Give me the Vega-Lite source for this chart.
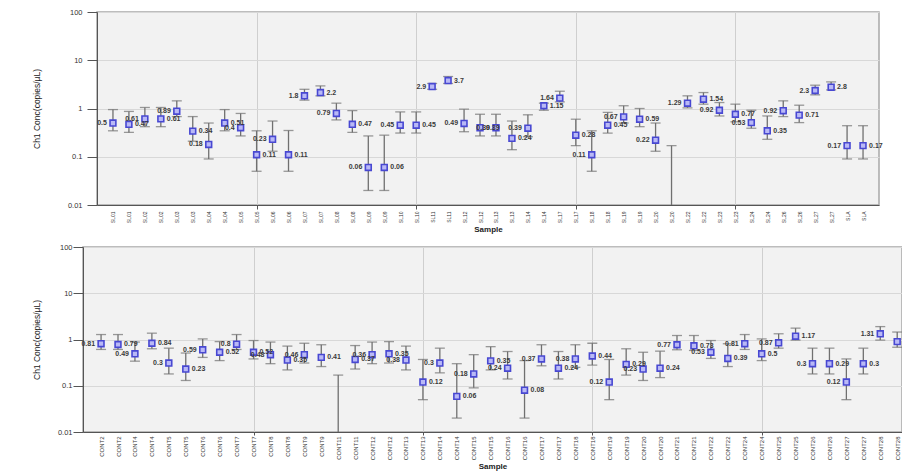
{
  "$schema": "https://vega.github.io/schema/vega-lite/v6.json",
  "background": "white",
  "padding": {"left": 24, "top": 7, "right": 0, "bottom": 0},
  "spacing": 7,
  "config": {
    "view": {"fill": "#f2f2f2", "stroke": "#a8a8a8", "strokeWidth": 1.5},
    "font": "Liberation Sans",
    "axis": {"labelFont": "Liberation Sans", "titleFont": "Liberation Sans", "domainColor": "#555555", "tickColor": "#555555", "labelColor": "#333333", "titleColor": "#222222"}
  },
  "vconcat": [
    {"spacing": 0, "hconcat": [
    {
      "width": 1, "height": 1,
      "view": {"fill": null, "stroke": null},
      "data": {"values": [{}]},
      "mark": {"type": "point", "opacity": 0}
    },
    {
      "width": 782,
      "height": 193,
      "data": {"values": [
        {"idx":1,"sample":"SL01","v":0.5,"lo":0.345,"hi":0.95,"lab":"0.5"},
        {"idx":2,"sample":"SL01","v":0.47,"lo":0.32,"hi":0.87,"lab":"0.47"},
        {"idx":3,"sample":"SL02","v":0.61,"lo":0.42,"hi":1.05,"lab":"0.61"},
        {"idx":4,"sample":"SL02","v":0.61,"lo":0.42,"hi":1.05,"lab":"0.61"},
        {"idx":5,"sample":"SL03","v":0.88,"lo":0.68,"hi":1.44,"lab":"0.89"},
        {"idx":6,"sample":"SL03","v":0.34,"lo":0.21,"hi":0.68,"lab":"0.34"},
        {"idx":7,"sample":"SL04","v":0.18,"lo":0.09,"hi":0.5,"lab":"0.18"},
        {"idx":8,"sample":"SL04","v":0.5,"lo":0.345,"hi":0.95,"lab":"0.51"},
        {"idx":9,"sample":"SL05","v":0.4,"lo":0.27,"hi":0.79,"lab":"0.4"},
        {"idx":10,"sample":"SL05","v":0.11,"lo":0.05,"hi":0.345,"lab":"0.11"},
        {"idx":11,"sample":"SL06","v":0.23,"lo":0.13,"hi":0.55,"lab":"0.23"},
        {"idx":12,"sample":"SL06","v":0.11,"lo":0.05,"hi":0.35,"lab":"0.11"},
        {"idx":13,"sample":"SL07","v":1.83,"lo":1.49,"hi":2.5,"lab":"1.8"},
        {"idx":14,"sample":"SL07","v":2.14,"lo":1.83,"hi":2.94,"lab":"2.2"},
        {"idx":15,"sample":"SL08","v":0.79,"lo":0.58,"hi":1.29,"lab":"0.79"},
        {"idx":16,"sample":"SL08","v":0.47,"lo":0.32,"hi":0.9,"lab":"0.47"},
        {"idx":17,"sample":"SL09","v":0.06,"lo":0.02,"hi":0.27,"lab":"0.06"},
        {"idx":18,"sample":"SL09","v":0.06,"lo":0.02,"hi":0.28,"lab":"0.06"},
        {"idx":19,"sample":"SL10","v":0.45,"lo":0.31,"hi":0.85,"lab":"0.45"},
        {"idx":20,"sample":"SL10","v":0.45,"lo":0.31,"hi":0.85,"lab":"0.45"},
        {"idx":21,"sample":"SL11","v":2.85,"lo":2.5,"hi":3.3,"lab":"2.9"},
        {"idx":22,"sample":"SL11","v":3.8,"lo":3.3,"hi":4.6,"lab":"3.7"},
        {"idx":23,"sample":"SL12","v":0.49,"lo":0.33,"hi":0.97,"lab":"0.49"},
        {"idx":24,"sample":"SL12","v":0.4,"lo":0.27,"hi":0.76,"lab":"0.39"},
        {"idx":25,"sample":"SL13","v":0.4,"lo":0.27,"hi":0.76,"lab":"0.39"},
        {"idx":26,"sample":"SL13","v":0.24,"lo":0.14,"hi":0.55,"lab":"0.24"},
        {"idx":27,"sample":"SL14","v":0.39,"lo":0.26,"hi":0.74,"lab":"0.39"},
        {"idx":28,"sample":"SL14","v":1.14,"lo":0.92,"hi":1.29,"lab":"1.15"},
        {"idx":29,"sample":"SL17","v":1.64,"lo":1.37,"hi":2.28,"lab":"1.64"},
        {"idx":30,"sample":"SL17","v":0.28,"lo":0.17,"hi":0.6,"lab":"0.28"},
        {"idx":31,"sample":"SL18","v":0.11,"lo":0.05,"hi":0.345,"lab":"0.11"},
        {"idx":32,"sample":"SL18","v":0.45,"lo":0.31,"hi":0.83,"lab":"0.45"},
        {"idx":33,"sample":"SL19","v":0.67,"lo":0.5,"hi":1.14,"lab":"0.67"},
        {"idx":34,"sample":"SL19","v":0.6,"lo":0.42,"hi":1.0,"lab":"0.59"},
        {"idx":35,"sample":"SL20","v":0.22,"lo":0.13,"hi":0.5,"lab":"0.22"},
        {"idx":36,"sample":"SL20","v":null,"lo":0.005,"hi":0.17,"lab":null},
        {"idx":37,"sample":"SL22","v":1.29,"lo":1.03,"hi":1.83,"lab":"1.29"},
        {"idx":38,"sample":"SL22","v":1.56,"lo":1.23,"hi":2.14,"lab":"1.54"},
        {"idx":39,"sample":"SL23","v":0.92,"lo":0.7,"hi":1.33,"lab":"0.92"},
        {"idx":40,"sample":"SL23","v":0.76,"lo":0.53,"hi":1.23,"lab":"0.77"},
        {"idx":41,"sample":"SL24","v":0.51,"lo":0.39,"hi":0.92,"lab":"0.53"},
        {"idx":42,"sample":"SL24","v":0.345,"lo":0.23,"hi":0.7,"lab":"0.35"},
        {"idx":43,"sample":"SL26","v":0.9,"lo":0.68,"hi":1.44,"lab":"0.92"},
        {"idx":44,"sample":"SL26","v":0.73,"lo":0.51,"hi":1.17,"lab":"0.71"},
        {"idx":45,"sample":"SL27","v":2.36,"lo":1.92,"hi":3.04,"lab":"2.3"},
        {"idx":46,"sample":"SL27","v":2.76,"lo":2.43,"hi":3.56,"lab":"2.8"},
        {"idx":47,"sample":"SLA","v":0.17,"lo":0.09,"hi":0.44,"lab":"0.17"},
        {"idx":48,"sample":"SLA","v":0.17,"lo":0.09,"hi":0.44,"lab":"0.17"}
      ]},
      "encoding": {
        "x": {
          "field": "idx", "type": "ordinal",
          "scale": {"type": "point", "padding": 1},
          "axis": {
            "title": "Sample", "titleFontSize": 8, "titleFontWeight": "bold", "titlePadding": 3,
            "labelAngle": -90, "labelFontSize": 5, "labelPadding": 2, "tickSize": 4,
            "labelExpr": "['SL01','SL01','SL02','SL02','SL03','SL03','SL04','SL04','SL05','SL05','SL06','SL06','SL07','SL07','SL08','SL08','SL09','SL09','SL10','SL10','SL11','SL11','SL12','SL12','SL13','SL13','SL14','SL14','SL17','SL17','SL18','SL18','SL19','SL19','SL20','SL20','SL22','SL22','SL23','SL23','SL24','SL24','SL26','SL26','SL27','SL27','SLA','SLA'][datum.value - 1]",
            "grid": true, "gridColor": "#cfcfcf",
            "gridOpacity": {"condition": {"test": "datum.value % 10 === 0", "value": 1}, "value": 0},
            "tickOpacity": {"condition": {"test": "datum.value % 10 === 0", "value": 1}, "value": 0}
          }
        }
      },
      "layer": [
        {
          "mark": {"type": "rule", "color": "#707070", "strokeWidth": 1.3, "clip": true},
          "encoding": {
            "y": {"field": "lo", "type": "quantitative", "title": "Ch1 Conc(copies/µL)",
              "scale": {"type": "log", "domain": [0.01, 100], "nice": false},
              "axis": {"values": [0.01, 0.1, 1, 10, 100], "format": "~g", "grid": true, "gridColor": "#d8d8d8",
                "labelFontSize": 7.5, "labelPadding": 5, "tickSize": 10, "titleFontSize": 8.5, "titleFontWeight": "normal", "titleX": -56}},
            "y2": {"field": "hi"}
          }
        },
        {
          "mark": {"type": "tick", "color": "#707070", "thickness": 1.3, "size": 10, "clip": true},
          "encoding": {"y": {"field": "lo", "type": "quantitative", "title": "Ch1 Conc(copies/µL)"}}
        },
        {
          "mark": {"type": "tick", "color": "#707070", "thickness": 1.3, "size": 10, "clip": true},
          "encoding": {"y": {"field": "hi", "type": "quantitative", "title": "Ch1 Conc(copies/µL)"}}
        },
        {
          "mark": {"type": "point", "shape": "square", "size": 34, "filled": true, "fill": "#b9b9f6", "stroke": "#4848d2", "strokeWidth": 1.6, "opacity": 1},
          "encoding": {"y": {"field": "v", "type": "quantitative", "title": "Ch1 Conc(copies/µL)"}}
        },
        {
          "transform": [{"filter": "datum.idx % 2 === 1"}],
          "mark": {"type": "text", "align": "right", "baseline": "middle", "dx": -6, "fontSize": 7, "fontWeight": "bold", "fill": "#3a3a3a"},
          "encoding": {"y": {"field": "v", "type": "quantitative", "title": "Ch1 Conc(copies/µL)"}, "text": {"field": "lab"}}
        },
        {
          "transform": [{"filter": "datum.idx % 2 === 0"}],
          "mark": {"type": "text", "align": "left", "baseline": "middle", "dx": 6, "fontSize": 7, "fontWeight": "bold", "fill": "#3a3a3a"},
          "encoding": {"y": {"field": "v", "type": "quantitative", "title": "Ch1 Conc(copies/µL)"}, "text": {"field": "lab"}}
        }
      ]
    }
    ]},
    {"spacing": 0, "hconcat": [
    {
      "width": 1, "height": 1,
      "view": {"fill": null, "stroke": null},
      "data": {"values": [{}]},
      "mark": {"type": "point", "opacity": 0}
    },
    {
      "width": 819,
      "height": 185,
      "data": {"values": [
        {"idx":1,"sample":"CONT2","v":0.81,"lo":0.61,"hi":1.28,"lab":"0.81"},
        {"idx":2,"sample":"CONT2","v":0.78,"lo":0.61,"hi":1.28,"lab":"0.79"},
        {"idx":3,"sample":"CONT4","v":0.49,"lo":0.34,"hi":0.88,"lab":"0.49"},
        {"idx":4,"sample":"CONT4","v":0.83,"lo":0.63,"hi":1.37,"lab":"0.84"},
        {"idx":5,"sample":"CONT5","v":0.31,"lo":0.18,"hi":0.65,"lab":"0.3"},
        {"idx":6,"sample":"CONT5","v":0.23,"lo":0.13,"hi":0.51,"lab":"0.23"},
        {"idx":7,"sample":"CONT6","v":0.6,"lo":0.41,"hi":1.03,"lab":"0.59"},
        {"idx":8,"sample":"CONT6","v":0.53,"lo":0.35,"hi":0.9,"lab":"0.52"},
        {"idx":9,"sample":"CONT7","v":0.79,"lo":0.61,"hi":1.28,"lab":"0.8"},
        {"idx":10,"sample":"CONT7","v":0.53,"lo":0.38,"hi":0.95,"lab":"0.52"},
        {"idx":11,"sample":"CONT8","v":0.47,"lo":0.3,"hi":0.88,"lab":"0.48"},
        {"idx":12,"sample":"CONT8","v":0.36,"lo":0.22,"hi":0.72,"lab":"0.35"},
        {"idx":13,"sample":"CONT9","v":0.47,"lo":0.31,"hi":0.83,"lab":"0.46"},
        {"idx":14,"sample":"CONT9","v":0.41,"lo":0.26,"hi":0.77,"lab":"0.41"},
        {"idx":15,"sample":"CONT11","v":null,"lo":0.005,"hi":0.17,"lab":null},
        {"idx":16,"sample":"CONT11","v":0.37,"lo":0.23,"hi":0.74,"lab":"0.37"},
        {"idx":17,"sample":"CONT12","v":0.47,"lo":0.3,"hi":0.88,"lab":"0.36"},
        {"idx":18,"sample":"CONT12","v":0.49,"lo":0.31,"hi":0.9,"lab":"0.35"},
        {"idx":19,"sample":"CONT13","v":0.36,"lo":0.22,"hi":0.72,"lab":"0.38"},
        {"idx":20,"sample":"CONT13","v":0.12,"lo":0.05,"hi":0.37,"lab":"0.12"},
        {"idx":21,"sample":"CONT14","v":0.31,"lo":0.19,"hi":0.65,"lab":"0.3"},
        {"idx":22,"sample":"CONT14","v":0.059,"lo":0.02,"hi":0.3,"lab":"0.06"},
        {"idx":23,"sample":"CONT15","v":0.18,"lo":0.09,"hi":0.47,"lab":"0.18"},
        {"idx":24,"sample":"CONT15","v":0.345,"lo":0.22,"hi":0.7,"lab":"0.35"},
        {"idx":25,"sample":"CONT16","v":0.24,"lo":0.14,"hi":0.55,"lab":"0.24"},
        {"idx":26,"sample":"CONT16","v":0.08,"lo":0.02,"hi":0.35,"lab":"0.08"},
        {"idx":27,"sample":"CONT17","v":0.38,"lo":0.27,"hi":0.77,"lab":"0.37"},
        {"idx":28,"sample":"CONT17","v":0.24,"lo":0.14,"hi":0.55,"lab":"0.24"},
        {"idx":29,"sample":"CONT18","v":0.38,"lo":0.25,"hi":0.77,"lab":"0.38"},
        {"idx":30,"sample":"CONT18","v":0.44,"lo":0.28,"hi":0.83,"lab":"0.44"},
        {"idx":31,"sample":"CONT19","v":0.12,"lo":0.05,"hi":0.37,"lab":"0.12"},
        {"idx":32,"sample":"CONT19","v":0.29,"lo":0.17,"hi":0.63,"lab":"0.29"},
        {"idx":33,"sample":"CONT20","v":0.23,"lo":0.13,"hi":0.53,"lab":"0.23"},
        {"idx":34,"sample":"CONT20","v":0.24,"lo":0.15,"hi":0.56,"lab":"0.24"},
        {"idx":35,"sample":"CONT21","v":0.77,"lo":0.6,"hi":1.22,"lab":"0.77"},
        {"idx":36,"sample":"CONT21","v":0.73,"lo":0.58,"hi":1.22,"lab":"0.73"},
        {"idx":37,"sample":"CONT22","v":0.53,"lo":0.39,"hi":0.95,"lab":"0.53"},
        {"idx":38,"sample":"CONT22","v":0.39,"lo":0.26,"hi":0.81,"lab":"0.39"},
        {"idx":39,"sample":"CONT24","v":0.81,"lo":0.61,"hi":1.28,"lab":"0.81"},
        {"idx":40,"sample":"CONT24","v":0.49,"lo":0.35,"hi":1.03,"lab":"0.5"},
        {"idx":41,"sample":"CONT25","v":0.85,"lo":0.65,"hi":1.33,"lab":"0.87"},
        {"idx":42,"sample":"CONT25","v":1.18,"lo":0.97,"hi":1.76,"lab":"1.17"},
        {"idx":43,"sample":"CONT26","v":0.3,"lo":0.18,"hi":0.65,"lab":"0.3"},
        {"idx":44,"sample":"CONT26","v":0.3,"lo":0.18,"hi":0.65,"lab":"0.29"},
        {"idx":45,"sample":"CONT27","v":0.12,"lo":0.05,"hi":0.38,"lab":"0.12"},
        {"idx":46,"sample":"CONT27","v":0.3,"lo":0.18,"hi":0.65,"lab":"0.3"},
        {"idx":47,"sample":"CONT28","v":1.33,"lo":0.97,"hi":1.9,"lab":"1.31"},
        {"idx":48,"sample":"CONT28","v":0.9,"lo":0.68,"hi":1.45,"lab":"0.9"}
      ]},
      "encoding": {
        "x": {
          "field": "idx", "type": "ordinal",
          "scale": {"type": "point", "padding": 0.675, "align": 0.79},
          "axis": {
            "title": "Sample", "titleFontSize": 8, "titleFontWeight": "bold", "titlePadding": 3,
            "labelAngle": -90, "labelFontSize": 6, "labelPadding": 1, "tickSize": 3,
            "labelExpr": "['CONT2','CONT2','CONT4','CONT4','CONT5','CONT5','CONT6','CONT6','CONT7','CONT7','CONT8','CONT8','CONT9','CONT9','CONT11','CONT11','CONT12','CONT12','CONT13','CONT13','CONT14','CONT14','CONT15','CONT15','CONT16','CONT16','CONT17','CONT17','CONT18','CONT18','CONT19','CONT19','CONT20','CONT20','CONT21','CONT21','CONT22','CONT22','CONT24','CONT24','CONT25','CONT25','CONT26','CONT26','CONT27','CONT27','CONT28','CONT28'][datum.value - 1]",
            "grid": true, "gridColor": "#cfcfcf",
            "gridOpacity": {"condition": {"test": "datum.value % 10 === 0", "value": 1}, "value": 0},
            "tickOpacity": {"condition": {"test": "datum.value % 10 === 0", "value": 1}, "value": 0}
          }
        }
      },
      "layer": [
        {
          "mark": {"type": "rule", "color": "#707070", "strokeWidth": 1.3, "clip": true},
          "encoding": {
            "y": {"field": "lo", "type": "quantitative", "title": "Ch1 Conc(copies/µL)",
              "scale": {"type": "log", "domain": [0.01, 100], "nice": false},
              "axis": {"values": [0.01, 0.1, 1, 10, 100], "format": "~g", "grid": true, "gridColor": "#d8d8d8",
                "labelFontSize": 7.5, "labelPadding": 1, "tickSize": 10, "titleFontSize": 8.5, "titleFontWeight": "normal", "titleX": -42}},
            "y2": {"field": "hi"}
          }
        },
        {
          "mark": {"type": "tick", "color": "#707070", "thickness": 1.3, "size": 10, "clip": true},
          "encoding": {"y": {"field": "lo", "type": "quantitative", "title": "Ch1 Conc(copies/µL)"}}
        },
        {
          "mark": {"type": "tick", "color": "#707070", "thickness": 1.3, "size": 10, "clip": true},
          "encoding": {"y": {"field": "hi", "type": "quantitative", "title": "Ch1 Conc(copies/µL)"}}
        },
        {
          "mark": {"type": "point", "shape": "square", "size": 34, "filled": true, "fill": "#b9b9f6", "stroke": "#4848d2", "strokeWidth": 1.6, "opacity": 1},
          "encoding": {"y": {"field": "v", "type": "quantitative", "title": "Ch1 Conc(copies/µL)"}}
        },
        {
          "transform": [{"filter": "datum.idx % 2 === 1"}],
          "mark": {"type": "text", "align": "right", "baseline": "middle", "dx": -6, "fontSize": 7, "fontWeight": "bold", "fill": "#3a3a3a"},
          "encoding": {"y": {"field": "v", "type": "quantitative", "title": "Ch1 Conc(copies/µL)"}, "text": {"field": "lab"}}
        },
        {
          "transform": [{"filter": "datum.idx % 2 === 0"}],
          "mark": {"type": "text", "align": "left", "baseline": "middle", "dx": 6, "fontSize": 7, "fontWeight": "bold", "fill": "#3a3a3a"},
          "encoding": {"y": {"field": "v", "type": "quantitative", "title": "Ch1 Conc(copies/µL)"}, "text": {"field": "lab"}}
        }
      ]
    }
    ]}
  ]
}
